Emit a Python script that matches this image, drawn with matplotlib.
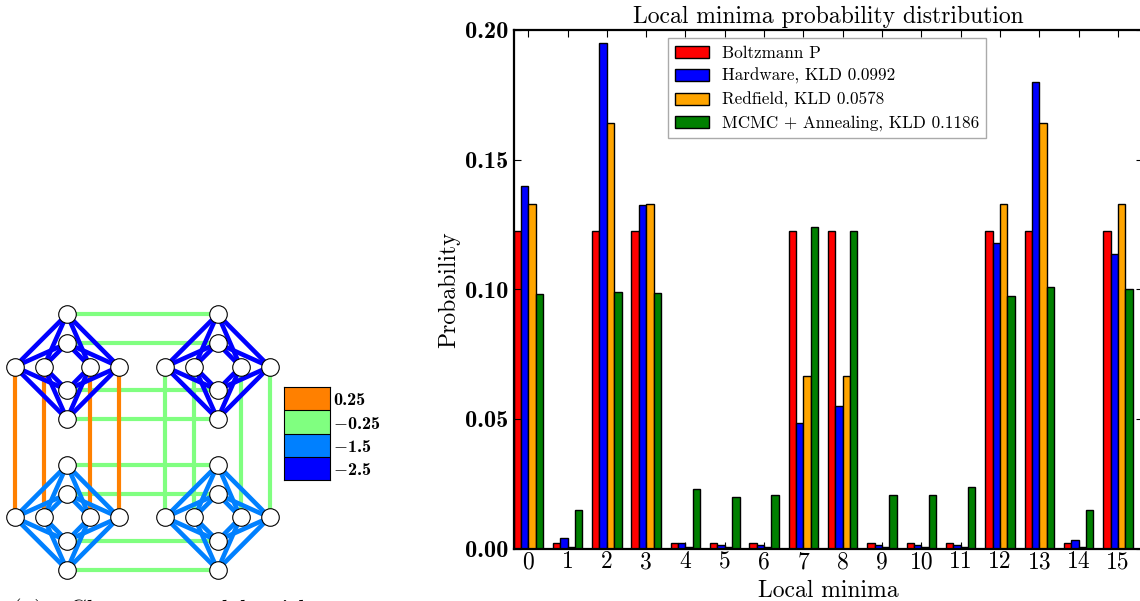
import numpy as np
import matplotlib
matplotlib.use('Agg')
import matplotlib.pyplot as plt
from matplotlib.colors import ListedColormap

# bar chart data
minima = list(range(16))
boltzmann = [0.1226, 0.0022, 0.1226, 0.1226, 0.0022, 0.0022, 0.0022, 0.1226,
             0.1226, 0.0022, 0.0022, 0.0022, 0.1226, 0.1226, 0.0022, 0.1226]
hardware = [0.1400, 0.0040, 0.1950, 0.1325, 0.0020, 0.0015, 0.0012, 0.0485,
            0.0550, 0.0015, 0.0012, 0.0015, 0.1180, 0.1800, 0.0033, 0.1135]
redfield = [0.1330, 0.0005, 0.1640, 0.1330, 0.0005, 0.0005, 0.0005, 0.0667,
            0.0667, 0.0005, 0.0005, 0.0005, 0.1330, 0.1640, 0.0005, 0.1330]
mcmc = [0.0980, 0.0150, 0.0990, 0.0985, 0.0228, 0.0197, 0.0205, 0.1240,
        0.1225, 0.0205, 0.0208, 0.0237, 0.0975, 0.1010, 0.0150, 0.1000]
labels = ['Boltzmann P', 'Hardware, KLD 0.0992', 'Redfield, KLD 0.0578',
          'MCMC + Annealing, KLD 0.1186']
bar_colors = ['red', 'blue', 'orange', 'green']

# graph data (pixel positions of the nodes in one cell, and cell offsets)
vert_x = [67, 67, 67, 67]
vert_y = [314.3, 343.3, 390, 419]
horiz_x = [14.7, 43.7, 90, 119]
horiz_y = [366.7, 366.7, 366.7, 366.7]
cell_dx = [0, 150.6]
cell_dy = [0, 150.7]
# coupling values
cell_j = [[-2.5, -2.5], [-1.5, -1.5]]
vert_j = [0.25, -0.25]
horiz_j = -0.25
legend_vals = [0.25, -0.25, -1.5, -2.5]
legend_txt = ['0.25', '$-$0.25', '$-$1.5', '$-$2.5']
j_colors = {0.25: '#ff8000', -0.25: '#80ff80', -1.5: '#0080ff', -2.5: '#0000ff'}

W, H = 1140, 601
plt.rcParams['mathtext.fontset'] = 'cm'
plt.rcParams['font.family'] = ['cmr10']
plt.rcParams['axes.unicode_minus'] = False
plt.rcParams['axes.formatter.use_mathtext'] = True

fig = plt.figure(figsize=(W / 100, H / 100), dpi=100)

# left panel, pixel coordinates
g = fig.add_axes([0, 0, 1, 1])
g.set_xlim(0, W)
g.set_ylim(H, 0)
g.axis('off')

for i, dy in enumerate(cell_dy):
    for k in range(4):
        g.plot([vert_x[k], vert_x[k] + cell_dx[1]], [vert_y[k] + dy] * 2,
               color=j_colors[horiz_j], lw=3.0, zorder=1, solid_capstyle='butt')
for j, dx in enumerate(cell_dx):
    for k in range(4):
        g.plot([horiz_x[k] + dx] * 2, [horiz_y[k], horiz_y[k] + cell_dy[1]],
               color=j_colors[vert_j[j]], lw=3.0, zorder=2, solid_capstyle='butt')
for i, dy in enumerate(cell_dy):
    for j, dx in enumerate(cell_dx):
        for a in range(4):
            for b in range(4):
                g.plot([vert_x[a] + dx, horiz_x[b] + dx], [vert_y[a] + dy, horiz_y[b] + dy],
                       color=j_colors[cell_j[i][j]], lw=3.3, zorder=3)
        g.scatter(np.array(vert_x) + dx, np.array(vert_y) + dy, s=160, c='white',
                  edgecolors='black', linewidths=0.8, zorder=4)
        g.scatter(np.array(horiz_x) + dx, np.array(horiz_y) + dy, s=160, c='white',
                  edgecolors='black', linewidths=0.8, zorder=4)

g.text(12, 617, '(a)   Chosen    model  with', fontsize=18, ha='left', va='baseline',
       clip_on=False)

# colour key
cb = fig.add_axes([283.5 / W, 1 - 480 / H, 46.5 / W, 92.7 / H])
cb.pcolormesh([0, 1], range(5), np.arange(4).reshape(4, 1),
              cmap=ListedColormap([j_colors[v] for v in legend_vals]),
              edgecolors='none')
cb.hlines([1, 2, 3], 0, 1, color='black', lw=0.8)
cb.set_ylim(4, 0)
cb.set_xticks([])
cb.yaxis.tick_right()
cb.set_yticks([0.5, 1.5, 2.5, 3.5])
cb.set_yticklabels(legend_txt, fontsize=13, family='cmb10')
cb.tick_params(axis='y', length=0, pad=2)
for s in cb.spines.values():
    s.set_linewidth(0.8)

# right panel, runs off the right edge like the reference
ax = fig.add_axes([513.5 / W, 1 - 548.5 / H, 629 / W, 518.5 / H])
width = 0.1875
for n, vals in enumerate([boltzmann, hardware, redfield, mcmc]):
    ax.bar(np.array(minima) + n * width, vals, width, align='edge', color=bar_colors[n],
           edgecolor='black', linewidth=1.0, label=labels[n])
ax.set_xlim(0, 16)
ax.set_ylim(0, 0.20)
ax.set_xticks(np.array(minima) + 2 * width)
ax.set_xticklabels([str(m) for m in minima], fontsize=17)
ax.set_yticks([0, 0.05, 0.10, 0.15, 0.20])
ax.set_yticklabels(['0.00', '0.05', '0.10', '0.15', '0.20'], fontsize=17.5, family='cmb10')
ax.tick_params(direction='in', top=True, right=True, length=5, width=0.8, pad=4)
ax.tick_params(axis='x', pad=2)
for s in ax.spines.values():
    s.set_linewidth(1.6)
ax.set_title('Local minima probability distribution', fontsize=17, pad=5)
ax.set_xlabel('Local minima', fontsize=17, labelpad=5)
ax.set_ylabel('Probability', fontsize=17, labelpad=3)
leg = ax.legend(loc='upper left', bbox_to_anchor=(154.8 / 629, 1 - 8.3 / 518.5), borderaxespad=0,
                fontsize=12.3, fancybox=False, framealpha=1, edgecolor='#aaaaaa',
                handlelength=1.97, labelspacing=0.43, handletextpad=0.75, borderpad=0.42)

fig.savefig('out.png', dpi=100)
